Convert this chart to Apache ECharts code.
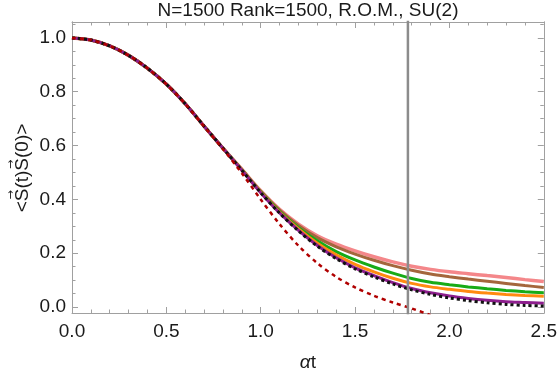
<!DOCTYPE html>
<html>
<head>
<meta charset="utf-8">
<script src="https://cdn.jsdelivr.net/npm/echarts@6/dist/echarts.min.js"></script>
<style>
  html, body { margin: 0; padding: 0; background: #fff; }
  #chart { width: 560px; height: 377px; }
</style>
</head>
<body>
<div id="chart"></div>
<script>
// time grid (alpha t), step 0.1
var tValues = [0.0, 0.1, 0.2, 0.3, 0.4, 0.5, 0.6, 0.7, 0.8, 0.9,
               1.0, 1.1, 1.2, 1.3, 1.4, 1.5, 1.6, 1.7, 1.8, 1.9,
               2.0, 2.1, 2.2, 2.3, 2.4, 2.5]

// all curves coincide up to ~0.8
var early = [1.0, 0.992, 0.970, 0.935, 0.887, 0.828, 0.755, 0.672, 0.590]

var pinkVals   = early.concat([0.512, 0.432, 0.363, 0.308, 0.265, 0.234, 0.209, 0.187, 0.168, 0.152, 0.140, 0.131, 0.124, 0.117, 0.110, 0.102, 0.095])
var brownVals  = early.concat([0.511, 0.430, 0.360, 0.303, 0.258, 0.224, 0.197, 0.174, 0.154, 0.137, 0.123, 0.113, 0.104, 0.096, 0.088, 0.080, 0.073])
var greenVals  = early.concat([0.510, 0.428, 0.356, 0.295, 0.246, 0.206, 0.175, 0.149, 0.126, 0.106, 0.092, 0.083, 0.075, 0.068, 0.062, 0.057, 0.053])
var orangeVals = early.concat([0.509, 0.427, 0.353, 0.290, 0.237, 0.194, 0.159, 0.131, 0.107, 0.088, 0.075, 0.066, 0.058, 0.052, 0.047, 0.043, 0.040])
var purpleVals = early.concat([0.508, 0.425, 0.350, 0.285, 0.229, 0.183, 0.146, 0.117, 0.091, 0.069, 0.053, 0.041, 0.032, 0.025, 0.020, 0.017, 0.014])
var blackVals  = early.concat([0.508, 0.425, 0.349, 0.283, 0.226, 0.180, 0.142, 0.112, 0.086, 0.064, 0.047, 0.034, 0.024, 0.016, 0.010, 0.006, 0.004])
var redVals    = [1.0, 0.992, 0.970, 0.935, 0.887, 0.828, 0.755, 0.671, 0.587,
                  0.497, 0.400, 0.308, 0.228, 0.163, 0.112, 0.073, 0.042, 0.017, -0.005, -0.030,
                  null, null, null, null, null, null]

var xMark = 1.78

var yTicks = [0.0, 0.2, 0.4, 0.6, 0.8, 1.0]
var yMinorTicks = [0.05, 0.1, 0.15, 0.25, 0.3, 0.35, 0.45, 0.5, 0.55, 0.65, 0.7, 0.75, 0.85, 0.9, 0.95, 1.05]

var titleText = 'N=1500 Rank=1500, R.O.M., SU(2)'
// y label pieces: arrows go over the two S
var yNameParts = ['<', 'S', '(t)', 'S', '(0)>']
var yArrowOver = [false, true, false, true, false]

var FONT = '"Liberation Sans", Arial, sans-serif'
var TEXT = '#1a1a1a'
var frameColor = '#a0a0a0'

function pairs(vals) {
    return tValues.map(function (t, i) { return [t, vals[i]] })
}

function curve(name, vals, color, width, dash, z) {
    return {
        name: name,
        type: 'line',
        data: pairs(vals),
        smooth: 0.3,
        showSymbol: false,
        symbol: 'none',
        clip: true,
        z: z,
        lineStyle: { color: color, width: width, type: dash || 'solid' }
    }
}

function yAxisDef(pos, values, len, labels) {
    return {
        type: 'value',
        position: pos,
        min: -0.022,
        max: 1.059,
        splitLine: { show: false },
        axisLine: { show: true, lineStyle: { color: frameColor, width: 1 } },
        axisTick: { show: true, inside: true, length: len, customValues: values,
                    lineStyle: { color: frameColor } },
        axisLabel: { show: labels, customValues: values, margin: 6,
                     fontSize: 19, fontFamily: FONT, color: TEXT,
                     formatter: function (v) { return v.toFixed(1) } }
    }
}

function xAxisDef(pos, labels) {
    return {
        type: 'value',
        position: pos,
        min: 0,
        max: 2.5,
        interval: 0.5,
        splitLine: { show: false },
        axisLine: { show: true, onZero: false, lineStyle: { color: frameColor, width: 1 } },
        axisTick: { show: true, inside: true, length: 6, lineStyle: { color: frameColor } },
        minorTick: { show: true, splitNumber: 5, length: 3.5, lineStyle: { color: frameColor } },
        minorSplitLine: { show: false },
        axisLabel: { show: labels, margin: 9, fontSize: 19, fontFamily: FONT, color: TEXT,
                     formatter: function (v) { return v.toFixed(1) } },
        name: labels ? '{a|\u03B1}t' : '',
        nameLocation: 'middle',
        nameGap: 40,
        nameTextStyle: { fontSize: 19, fontFamily: FONT, color: TEXT,
                         rich: { a: { fontSize: 19, fontFamily: FONT, fontStyle: 'italic', color: TEXT } } }
    }
}

// rotated y label built from pieces, small arrow over each S
function yLabelGraphic() {
    var ctx = document.createElement('canvas').getContext('2d')
    ctx.font = '19px ' + FONT
    var widths = yNameParts.map(function (p) { return ctx.measureText(p).width })
    var total = widths.reduce(function (a, b) { return a + b }, 0)
    var kids = []
    var x = -total / 2
    yNameParts.forEach(function (p, i) {
        kids.push({
            type: 'text', x: x, y: 0,
            style: { text: p, font: '19px ' + FONT, fill: TEXT, textVerticalAlign: 'middle' }
        })
        if (yArrowOver[i]) {
            kids.push({
                type: 'text', x: x + widths[i] / 2, y: -12,
                style: { text: '\u2192', font: '11px "DejaVu Sans", sans-serif', fill: TEXT,
                         textAlign: 'center', textVerticalAlign: 'middle' }
            })
        }
        x += widths[i]
    })
    return { type: 'group', x: 23, y: 168, rotation: Math.PI / 2, children: kids }
}

var chart = echarts.init(document.getElementById('chart'), null, { renderer: 'canvas' })

var option = {
    animation: false,
    backgroundColor: '#fff',
    title: {
        text: titleText,
        left: 308,
        textAlign: 'center',
        top: 1,
        padding: 0,
        textStyle: { fontSize: 19, fontWeight: 'normal', fontFamily: FONT, color: TEXT }
    },
    grid: { left: 72, right: 16, top: 22, bottom: 63 },
    xAxis: [xAxisDef('bottom', true), xAxisDef('top', false)],
    yAxis: [
        yAxisDef('left', yTicks, 6, true),
        yAxisDef('left', yMinorTicks, 3.5, false),
        yAxisDef('right', yTicks, 6, false),
        yAxisDef('right', yMinorTicks, 3.5, false)
    ],
    graphic: [yLabelGraphic()],
    series: [
        curve('pink', pinkVals, '#f4878a', 3.5, 'solid', 2),
        curve('brown', brownVals, '#a4663c', 3, 'solid', 3),
        curve('green', greenVals, '#17ab17', 3, 'solid', 4),
        curve('orange', orangeVals, '#ff8a10', 3, 'solid', 5),
        curve('purple', purpleVals, '#8e1f8e', 3, 'solid', 6),
        curve('black', blackVals, '#111111', 3, [3, 3], 7),
        curve('red', redVals, '#b00000', 2.5, [4, 4], 8),
        {
            name: 'mark',
            type: 'line',
            data: [[xMark, -1], [xMark, 2]],
            showSymbol: false,
            symbol: 'none',
            clip: true,
            z: 9,
            lineStyle: { color: '#8c8c8c', width: 2.5 }
        }
    ]
}

chart.setOption(option)
</script>
</body>
</html>
